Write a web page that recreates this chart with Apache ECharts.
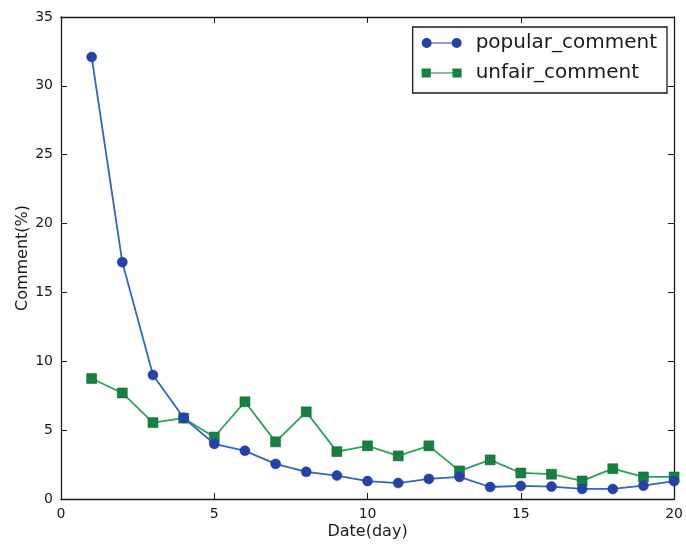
<!DOCTYPE html>
<html><head><meta charset="utf-8">
<script src="https://cdn.jsdelivr.net/npm/echarts@6/dist/echarts.min.js"></script>
<style>html,body{margin:0;padding:0;background:#fff}#c{width:686px;height:545px}</style>
</head><body><div id="c"></div>
<script>
const days = [1,2,3,4,5,6,7,8,9,10,11,12,13,14,15,16,17,18,19,20];
const popularComment = [32.1,17.2,9.0,5.9,4.0,3.5,2.55,1.97,1.7,1.3,1.16,1.46,1.6,0.87,0.95,0.9,0.73,0.73,0.97,1.3];
const unfairComment = [8.75,7.7,5.55,5.87,4.5,7.06,4.15,6.33,3.44,3.86,3.13,3.86,2.04,2.84,1.89,1.8,1.31,2.2,1.6,1.6];
const xTicks = [0,5,10,15,20];
const yTicks = [0,5,10,15,20,25,30,35];

const font = 'DejaVu Sans';
const circleIcon = 'path://M0,5A5,5 0 1,1 10,5A5,5 0 1,1 0,5ZM9,4.5L31,4.5L31,5.5L9,5.5ZM30,5A5,5 0 1,1 40,5A5,5 0 1,1 30,5Z';
const squareIcon = 'path://M0.5,0.5L9.5,0.5L9.5,9.5L0.5,9.5ZM9,4.5L31,4.5L31,5.5L9,5.5ZM30.5,0.5L39.5,0.5L39.5,9.5L30.5,9.5Z';
const chart = echarts.init(document.getElementById('c'), null, {renderer:'canvas'});
const axisLine = {show:true, onZero:false, lineStyle:{color:'#1a1a1a', width:1.3}};
const tick = {show:true, inside:true, length:6, lineStyle:{color:'#1a1a1a', width:1}};
chart.setOption({
  animation:false,
  backgroundColor:'#fff',
  grid:{left:61, right:10, top:17, bottom:46, containLabel:false},
  legend:{
    right:19, top:27, orient:'vertical',
    borderColor:'#1a1a1a', borderWidth:1.3, padding:[6,10,10,9],
    itemWidth:40, itemHeight:10, itemGap:10,
    itemStyle:{borderWidth:0},
    textStyle:{fontFamily:font, fontSize:20, color:'#1a1a1a', padding:[0,0,0,9]},
    data:[{name:'popular_comment', icon:circleIcon},{name:'unfair_comment', icon:squareIcon}]
  },
  xAxis:[{
    type:'value', min:xTicks[0], max:xTicks[xTicks.length-1], interval:5,
    name:'Date(day)', nameLocation:'middle', nameGap:25, nameMoveOverlap:false,
    nameTextStyle:{fontFamily:font, fontSize:16, color:'#1a1a1a'},
    axisLine:axisLine, axisTick:tick, splitLine:{show:false},
    axisLabel:{fontFamily:font, fontSize:14, color:'#1a1a1a', margin:8}
  },{
    type:'value', position:'top', min:0, max:20, interval:5,
    axisLine:axisLine, axisTick:tick, splitLine:{show:false}, axisLabel:{show:false}
  }],
  yAxis:[{
    type:'value', min:yTicks[0], max:yTicks[yTicks.length-1], interval:5,
    name:'Comment(%)', nameLocation:'middle', nameGap:30, nameRotate:90, nameMoveOverlap:false,
    nameTextStyle:{fontFamily:font, fontSize:16, color:'#1a1a1a'},
    axisLine:axisLine, axisTick:tick, splitLine:{show:false},
    axisLabel:{fontFamily:font, fontSize:14, color:'#1a1a1a', margin:8}
  },{
    type:'value', position:'right', min:0, max:35, interval:5,
    axisLine:axisLine, axisTick:tick, splitLine:{show:false}, axisLabel:{show:false}
  }],
  series:[{
    name:'popular_comment', type:'line',
    data:days.map((d,i)=>[d,popularComment[i]]),
    symbol:'circle', symbolSize:10,
    lineStyle:{color:'#3262cc', width:1.8},
    itemStyle:{color:'#2443a8', borderColor:'#1e3a99', borderWidth:0.5},
    z:3
  },{
    name:'unfair_comment', type:'line',
    data:days.map((d,i)=>[d,unfairComment[i]]),
    symbol:'rect', symbolSize:10,
    lineStyle:{color:'#2aa35a', width:1.8},
    itemStyle:{color:'#178040', borderColor:'#10602c', borderWidth:0.5},
    z:2
  }]
});
</script></body></html>
